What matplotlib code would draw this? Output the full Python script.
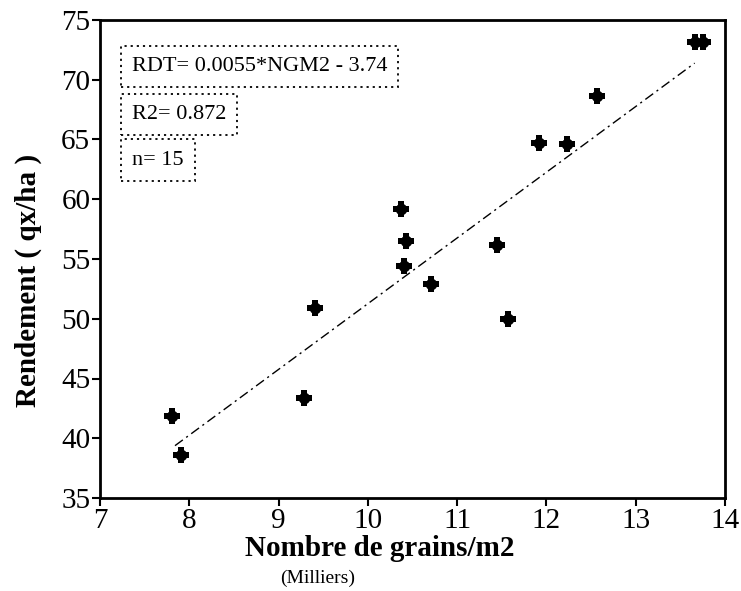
import numpy as np
import matplotlib
matplotlib.use('Agg')
import matplotlib.pyplot as plt

plt.rcParams['font.family'] = ['Liberation Serif', 'DejaVu Serif']

# nombre de grains (milliers /m2) et rendement (qx/ha)
ngm2 = [7.81, 7.91, 9.28, 9.41, 10.37, 10.43, 10.41, 10.71,
        11.45, 11.57, 11.92, 12.23, 12.57, 13.66, 13.75]
rdt = [41.9, 38.6, 43.4, 50.9, 59.2, 56.5, 54.4, 52.9,
       56.2, 50.0, 64.7, 64.6, 68.6, 73.2, 73.2]

slope = 0.0055
intercept = -3.74
r2 = 0.872
fit_range = [7.84, 13.66]

fig = plt.figure(figsize=(7.41, 5.91), dpi=100)
ax = fig.add_axes([100 / 741, 1 - 498 / 591, 625 / 741, 478 / 591])

# croix pleines + disque pour arrondir
ax.scatter(ngm2, rdt, marker='P', s=130, color='black', linewidths=0, zorder=3)
ax.scatter(ngm2, rdt, marker='o', s=70, color='black', linewidths=0, zorder=3)

xl = np.array(fit_range)
ax.plot(xl, slope * 1000 * xl + intercept, color='black', lw=1.0,
        linestyle=(0, (7, 3, 1.5, 3)), zorder=2)

ax.set_xlim(7, 14)
ax.set_ylim(35, 75)
ax.set_xticks(range(7, 15))
ax.set_yticks(range(35, 76, 5))
ax.tick_params(direction='out', length=6, width=1.5, labelsize=21, pad=1)
for s in ax.spines.values():
    s.set_linewidth(2)

box = dict(boxstyle='square,pad=0.5', fc='white', ec='black',
           ls=(0, (1.2, 2.2)), lw=1.3)
ax.text(0.051, 0.902, f'RDT= {slope}*NGM2 - {abs(intercept)}', transform=ax.transAxes,
        fontsize=16, va='center', ha='left', bbox=box)
ax.text(0.051, 0.803, f'R2= {r2}', transform=ax.transAxes,
        fontsize=16, va='center', ha='left', bbox=box)
ax.text(0.051, 0.707, f'n= {len(ngm2)}', transform=ax.transAxes,
        fontsize=16, va='center', ha='left', bbox=box)

fig.text(380 / 741, 1 - 548 / 591, 'Nombre de grains/m2', fontsize=21,
         fontweight='bold', ha='center', va='center')
fig.text(318 / 741, 1 - 578 / 591, '(Milliers)', fontsize=14,
         ha='center', va='center')
fig.text(28 / 741, 1 - 280 / 591, 'Rendement ( qx/ha )', fontsize=21,
         fontweight='bold', ha='center', va='center', rotation=90)

fig.savefig('out.png', dpi=100)
